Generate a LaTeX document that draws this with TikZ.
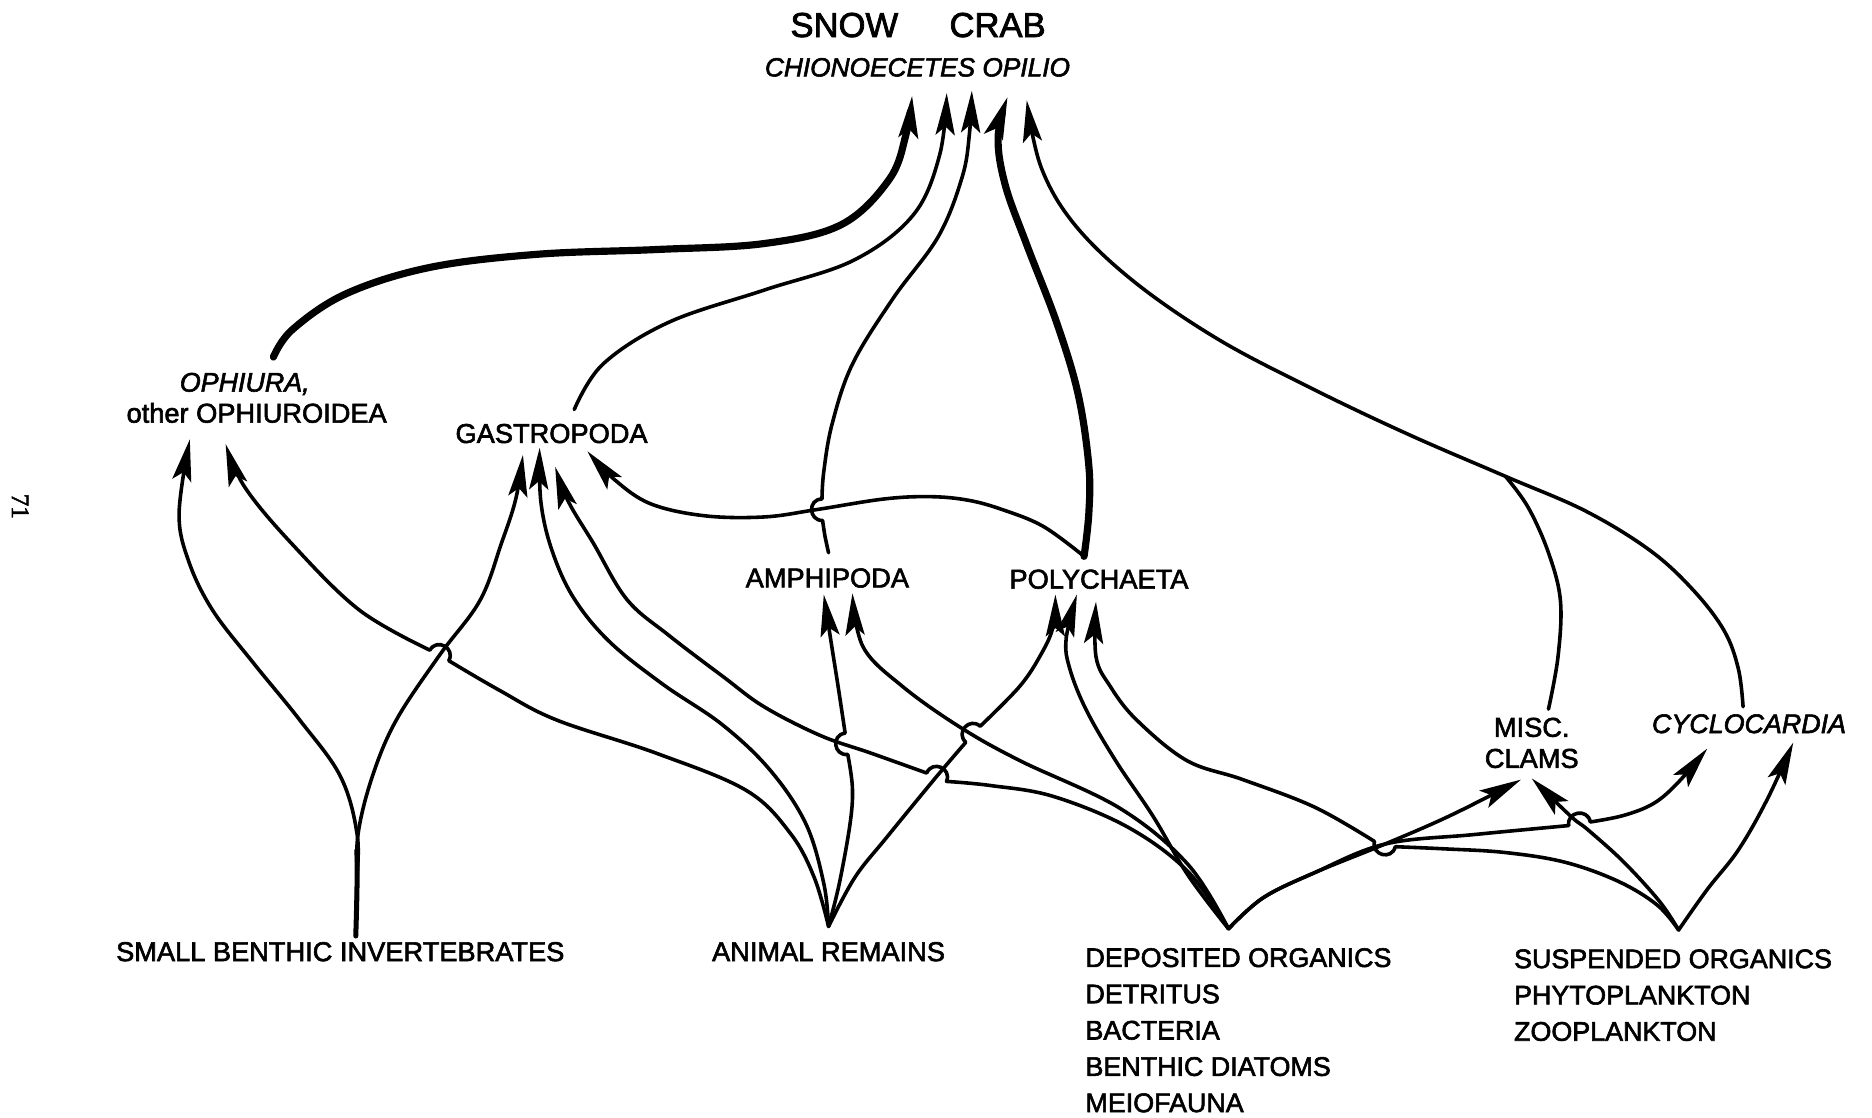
\documentclass[tikz,border=0pt]{standalone}
\usepackage{fontspec}
\setmainfont{Liberation Sans}[FakeBold=2.2]
\newfontfamily\numfont{Liberation Serif}[FakeBold=2.2]
\usetikzlibrary{arrows.meta}

\begin{document}
\begin{tikzpicture}[x=1pt,y=-1pt,
  lab/.style={inner sep=0pt, font=\fontsize{22.8}{26}\selectfont},
  listlab/.style={inner sep=0pt, align=left, anchor=north west, font=\fontsize{22.5}{30.4}\selectfont},
  link/.style={line width=3pt, line cap=round, line join=round},
  feed/.style={link, -{Stealth[length=35pt,width=16pt,inset=7pt]}},
  heavy/.style={feed, line width=6pt},
  sm/.style={smooth, tension=.6}
]
\useasboundingbox (0,0) rectangle (1568,936);

% ---------- labels ----------
\node[inner sep=0pt, anchor=base, font=\fontsize{29}{32}\selectfont] (crab) at (769,31) {SNOW\hspace{43pt}CRAB};
\node[inner sep=0pt, anchor=base, font=\itshape\fontsize{22}{26}\selectfont] (species) at (768.5,64) {CHIONOECETES OPILIO};

\node[lab, anchor=base, font=\itshape\fontsize{22.5}{26}\selectfont] (oph-name) at (205,328) {OPHIURA,};
\node[lab, anchor=base] (oph) at (215,354) {other OPHIUROIDEA};
\node[lab, anchor=base] (gas) at (462,371) {GASTROPODA};
\node[lab, anchor=base] (amp) at (693,492) {AMPHIPODA};
\node[lab, anchor=base] (pol) at (920.5,493) {POLYCHAETA};
\node[lab, align=center, anchor=north] (clams) at (1283,601) {MISC.\\CLAMS};
\node[lab, anchor=base, font=\itshape\fontsize{22.5}{26}\selectfont] (cyc) at (1465,614) {CYCLOCARDIA};

\node[lab, anchor=base] (sbi) at (285,805) {SMALL BENTHIC INVERTEBRATES};
\node[lab, anchor=base] (ar) at (694,805) {ANIMAL REMAINS};
\node[listlab] (dep) at (909,794) {DEPOSITED ORGANICS\\DETRITUS\\BACTERIA\\BENTHIC DIATOMS\\MEIOFAUNA};
\node[listlab] (sus) at (1268,795) {SUSPENDED ORGANICS\\PHYTOPLANKTON\\ZOOPLANKTON};

\node[inner sep=0pt, rotate=-90, font=\numfont\fontsize{21}{24}\selectfont] (page) at (17,424) {71};

% ---------- connector ends ----------
\coordinate (sbi-src) at (298,784);
\coordinate (ar-src) at (694,776);
\coordinate (dep-src) at (1029,778);
\coordinate (sus-src) at (1406,779);

\coordinate (oph-top) at (229,299);
\coordinate (gas-top) at (481,343);
\coordinate (amp-top) at (694,463);
\coordinate (pol-top) at (908,466);
\coordinate (clam-top) at (1297,594);
\coordinate (cyc-top) at (1460,592);
\coordinate (merge) at (1261,399);

\coordinate (crab-in1) at (764,80);
\coordinate (crab-in2) at (793,78);
\coordinate (crab-in3) at (814,76);
\coordinate (crab-in4) at (844,81);
\coordinate (crab-in5) at (860,84);
\coordinate (oph-in1) at (159,368);
\coordinate (oph-in2) at (189,372);
\coordinate (gas-in1) at (438,381);
\coordinate (gas-in2) at (452,375);
\coordinate (gas-in3) at (465,391);
\coordinate (gas-in4) at (492,378);
\coordinate (amp-in1) at (690,498);
\coordinate (amp-in2) at (714,497);
\coordinate (pol-in1) at (884,498);
\coordinate (pol-in2) at (902,498);
\coordinate (pol-in3) at (918,504);
\coordinate (clam-in1) at (1274,653);
\coordinate (clam-in2) at (1283,652);
\coordinate (cyc-in1) at (1430,627);
\coordinate (cyc-in2) at (1502,622);

% ---------- feeding links into the snow crab ----------
\draw[heavy] plot[sm] coordinates {(oph-top) (245,276) (290,246) (360,224) (450,213) (550,209) (640,204) (705,188) (745,150) (759,112) (crab-in1)};
\draw[feed] plot[sm] coordinates {(gas-top) (505,305) (560,270) (640,243) (715,218) (765,180) (787,130) (crab-in2)};
\draw[feed] plot[sm] coordinates {(amp-top) (691,449) (689,436)}
  .. controls +(-12,0) and +(-12,0) .. (688.5,418)
  plot[sm] coordinates {(688.5,418) (690,395) (697,355) (714,305) (748,250) (786,198) (806,148) (812,112) (crab-in3)};
\draw[heavy] plot[sm] coordinates {(pol-top) (912,430) (912,390) (903,330) (885,270) (860,205) (842,155) (836,115) (crab-in4)};
\draw[feed] plot[sm] coordinates {(cyc-top) (1456,560) (1444,528) (1418,494) (1382,461) (1328,428) (merge) (1180,364) (1100,326) (1020,284) (950,236) (900,188) (872,140) (crab-in5)};
\draw[link] plot[sm] coordinates {(clam-top) (1305,550) (1307,503) (1297,463) (1280,425) (merge)};

% ---------- polychaetes to gastropods ----------
\draw[feed] plot[sm] coordinates {(pol-top) (874,441) (840,427) (811,419) (779,416) (740,418) (683,427) (640,433) (590,432) (545,422) (515,402) (gas-in4)};

% ---------- small benthic invertebrates ----------
\draw[link, line width=4.2pt] plot[sm] coordinates {(sbi-src) (299,745) (299,712)};
\draw[feed] plot[sm] coordinates {(sbi-src) (299,740) (299,698) (285,650) (251,603) (212,555) (178,511) (158,470) (150,430) (oph-in1)};
\draw[feed] plot[sm] coordinates {(sbi-src) (299,740) (300,698) (312,650) (332,603) (368,549) (402,503) (420,455) (432,418) (gas-in1)};

% ---------- animal remains ----------
\draw[feed] plot[sm] coordinates {(ar-src) (682,735) (662,698) (625,662) (550,631) (466,603) (418,578) (375.9,553.4)}
  .. controls +(5.8,-10.5) and +(5.8,-10.5) .. (360.1,544.6)
  plot[sm] coordinates {(360.1,544.6) (301,511) (244,455) (205,408) (oph-in2)};
\draw[feed] plot[sm] coordinates {(ar-src) (690,740) (675,690) (645,645) (605,607) (555,573) (510,537) (480,500) (462,460) (453,420) (gas-in2)};
\draw[feed] plot[sm] coordinates {(ar-src) (703,740) (712,690) (714,660) (710.1,631.9)}
  .. controls +(-11.9,1.4) and +(-11.9,1.4) .. (707.9,614.1)
  plot[sm] coordinates {(707.9,614.1) (702,575) (696,537) (amp-in1)};
\draw[feed] plot[sm] coordinates {(ar-src) (716,735) (743,701) (784,651) (809,621.7)}
  .. controls +(-9,-8) and +(-9,-8) .. (821,608.3)
  plot[sm] coordinates {(821,608.3) (854,575) (872,548) (882,525) (pol-in1)};

% ---------- deposited organics ----------
\draw[feed] plot[sm] coordinates {(dep-src) (995,730) (945,693) (882,667) (830,658) (792.8,654.5)}
  .. controls +(4.7,-11.1) and +(4.7,-11.1) .. (776.2,647.5)
  plot[sm] coordinates {(776.2,647.5) (730,631) (687,616) (640,592) (606,567) (560,532) (525,502) (497,455) (476,420) (gas-in3)};
\draw[feed] plot[sm] coordinates {(dep-src) (995,724) (938,677) (854,637) (804,609) (756,575) (723,542) (amp-in2)};
\draw[feed] plot[sm] coordinates {(dep-src) (995,733) (966,684) (935,638) (910,595) (896,560) (893,535) (pol-in2)};
\draw[feed] plot[sm] coordinates {(dep-src) (1058,752) (1101,731) (1160,707) (1215,683) (clam-in1)};
\draw[feed] plot[sm] coordinates {(dep-src) (1058,752) (1101,731) (1160,707) (1235,699) (1314,691.5)}
  .. controls +(-2,-11.8) and +(-2,-11.8) .. (1332,688.5)
  plot[sm] coordinates {(1332,688.5) (1360,683) (1385,673) (1405,656) (cyc-in1)};

% ---------- suspended organics ----------
\draw[feed] plot[sm] coordinates {(sus-src) (1388,758) (1355,738) (1310,722) (1260,714) (1210,711) (1168.7,709.2)}
  .. controls +(-2.9,11.6) and +(-2.9,11.6) .. (1151.3,704.8)
  plot[sm] coordinates {(1151.3,704.8) (1101,676) (1041,653) (994,637) (952,603) (930,575) (918,550) (pol-in3)};
\draw[feed] plot[sm] coordinates {(sus-src) (1390,755) (1360,722) (1330,695) (1316,684) (clam-in2)};
\draw[feed] plot[sm] coordinates {(sus-src) (1430,745) (1456,712) (1480,670) (cyc-in2)};
\end{tikzpicture}
\end{document}
